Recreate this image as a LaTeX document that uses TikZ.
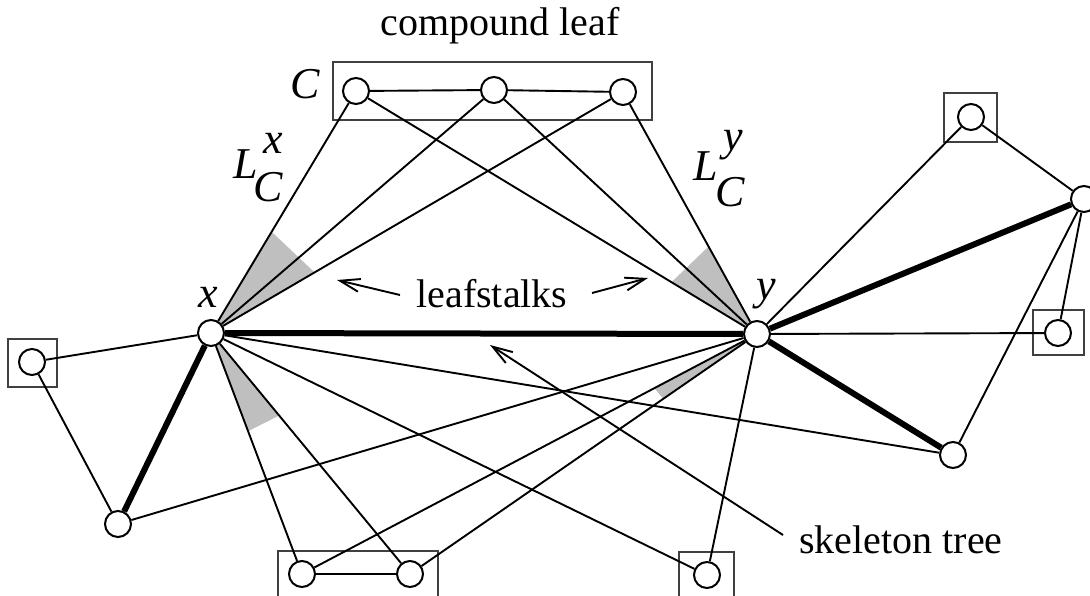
\documentclass[tikz,border=0pt]{standalone}
\usepackage{fontspec}
\setmainfont{Liberation Serif}
\usetikzlibrary{arrows.meta,calc,backgrounds}
\begin{document}
\begin{tikzpicture}[x=1pt,y=-1pt,
  vert/.style={circle,draw,fill=white,line width=2pt,minimum size=26pt,inner sep=0pt},
  ln/.style={line width=1.9pt},
  tk/.style={line width=6pt},
  leafbox/.style={draw=black!75,line width=1.2pt},
  wedge/.style={fill=black!25},
  lbl/.style={font=\fontsize{40}{48}\selectfont,anchor=base,inner sep=0pt},
  mlbl/.style={font=\fontsize{44}{52}\selectfont\itshape,anchor=base,inner sep=0pt},
  ptr/.style={line width=1.9pt,-{Straight Barb[length=20pt,width=13pt,line width=1.9pt]}}]
\useasboundingbox (0,0) rectangle (1090,595);
\clip (0,0) rectangle (1090,595);

% boxes
\draw[leafbox] (333,62) rectangle (652,120);
\draw[leafbox] (8,339) rectangle (57,387);
\draw[leafbox] (278,551) rectangle (438,610);
\draw[leafbox] (679,552) rectangle (734,610);
\draw[leafbox] (944,93) rectangle (997,142);
\draw[leafbox] (1033,310) rectangle (1084,355);

% vertices
\node[vert] (nx) at (211,333) {};
\node[vert] (ny) at (757,334) {};
\node[vert] (c1) at (356,91) {};
\node[vert] (c2) at (494,90) {};
\node[vert] (c3) at (623,92) {};
\node[vert] (l1) at (32,362) {};
\node[vert] (l2) at (118,524) {};
\node[vert] (b1) at (302,574) {};
\node[vert] (b2) at (410,574) {};
\node[vert] (b3) at (707,575) {};
\node[vert] (r1) at (971,117) {};
\node[vert] (r2) at (1084,199) {};
\node[vert] (r3) at (1058,333) {};
\node[vert] (r4) at (953,455) {};

% shaded wedges
\begin{pgfonlayer}{background}
\fill[wedge] (nx.center) -- ($(nx.center)!118pt!(c1.center)$) -- ($(nx.center)!120pt!(c3.center)$) -- cycle;
\fill[wedge] (ny.center) -- ($(ny.center)!100pt!(c1.center)$) -- ($(ny.center)!100pt!(c3.center)$) -- cycle;
\fill[wedge] (nx.center) -- ($(nx.center)!105pt!(b1.center)$) -- ($(nx.center)!107pt!(b2.center)$) -- cycle;
\fill[wedge] (ny.center) -- ($(ny.center)!116pt!(b1.center)$) -- ($(ny.center)!114pt!(b2.center)$) -- cycle;
\end{pgfonlayer}

% thick skeleton edges
\draw[tk] (nx) -- (ny);
\draw[tk] (nx) -- (l2);
\draw[tk] (ny) -- (r2);
\draw[tk] (ny) -- (r4);

% thin edges
\draw[ln] (c1) -- (c2);
\draw[ln] (c2) -- (c3);
\draw[ln] (nx) -- (c1);
\draw[ln] (nx) -- (c2);
\draw[ln] (nx) -- (c3);
\draw[ln] (ny) -- (c1);
\draw[ln] (ny) -- (c2);
\draw[ln] (ny) -- (c3);
\draw[ln] (nx) -- (l1);
\draw[ln] (l1) -- (l2);
\draw[ln] (l2) -- (ny);
\draw[ln] (nx) -- (b1);
\draw[ln] (nx) -- (b2);
\draw[ln] (nx) -- (b3);
\draw[ln] (nx) -- (r4);
\draw[ln] (b1) -- (b2);
\draw[ln] (b1) -- (ny);
\draw[ln] (b2) -- (ny);
\draw[ln] (ny) -- (b3);
\draw[ln] (ny) -- (r1);
\draw[ln] (ny) -- (r3);
\draw[ln] (r1) -- (r2);
\draw[ln] (r2) -- (r3);
\draw[ln] (r2) -- (r4);

% labels
\node[lbl] (tcl) at (500,35) {compound leaf};
\node[lbl] (tls) at (492,307) {leafstalks};
\node[lbl] (tst) at (901,553) {skeleton tree};
\node[mlbl] (tC) at (305,98) {C};
\node[mlbl,anchor=base west] (tLx) at (233,178) {L};
\node[mlbl] (tLxs) at (273,153) {x};
\node[mlbl] (tLxc) at (268,201) {C};
\node[mlbl,anchor=base west] (tLy) at (693,180) {L};
\node[mlbl] (tLys) at (733,150) {y};
\node[mlbl] (tLyc) at (730,206) {C};
\node[mlbl] (tx) at (208,307) {x};
\node[mlbl] (ty) at (766,299) {y};

% pointers
\coordinate (pa1) at (400,295);
\coordinate (pa1t) at (337,280);
\coordinate (pa2) at (592,293);
\coordinate (pa2t) at (648,278);
\coordinate (ps) at (783,535);
\coordinate (pst) at (490,345);
\draw[ptr] (pa1) -- (pa1t);
\draw[ptr] (pa2) -- (pa2t);
\draw[ptr] (ps) -- (pst);
\end{tikzpicture}
\end{document}
